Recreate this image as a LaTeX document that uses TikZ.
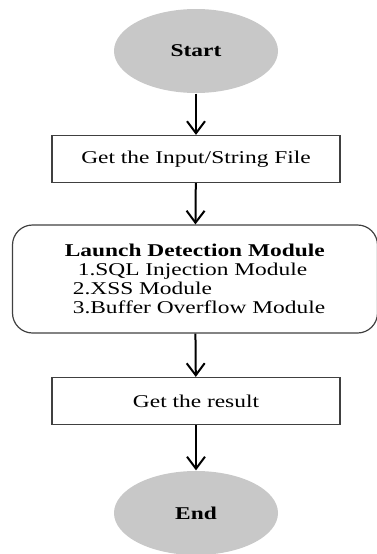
\documentclass[tikz,border=0pt]{standalone}
\usepackage{fontspec}
\setmainfont{Liberation Serif}[FakeStretch=1.3]
\usetikzlibrary{shapes.geometric}
\usetikzlibrary{positioning}
\usetikzlibrary{arrows.meta}
\definecolor{termgray}{RGB}{200,200,200}

\begin{document}
\begin{tikzpicture}[x = 1pt, y = 1pt, black, line width = 1.2pt,
    font = \fontsize{18}{19}\selectfont,
    term/.style = {ellipse, fill = termgray, minimum width = 164pt, minimum height = 84pt, inner sep = 0pt, font = \fontsize{18}{19}\selectfont\bfseries},
    proc/.style = {rectangle, draw = black!75, minimum width = 288pt, minimum height = 47pt},
    modbox/.style = {rectangle, draw = black!75, rounded corners = 20pt, minimum width = 365pt, minimum height = 108pt, align = left},
    flow/.style = {-{Straight Barb[length = 12pt, width = 18pt]}, line width = 2pt},
]

    \useasboundingbox (0,0) rectangle (377,-554);

    \begin{scope}[on grid]

        \node (Start) at (196,-51) [term] {Start};

        \node (In)  [proc, below = 108pt of Start] {Get the Input/String File};
        \node (Det) [modbox, below = 120pt of In, xshift = -1pt]
            {\textbf{Launch Detection Module}\\
             \hspace*{13pt}1.SQL Injection Module\\
             \hspace*{8pt}2.XSS Module\\
             \hspace*{8pt}3.Buffer Overflow Module};
        \node (Res) [proc, below = 122pt of Det, xshift = 1pt] {Get the result};

        \node (End) [term, below = 112pt of Res] {End};

        \draw[flow] (Start) -- (In);
        \draw[flow] (In) -- (Det);
        \draw[flow] (Det) -- (Res);
        \draw[flow] (Res) -- (End);
    \end{scope}

\end{tikzpicture}
\end{document}
